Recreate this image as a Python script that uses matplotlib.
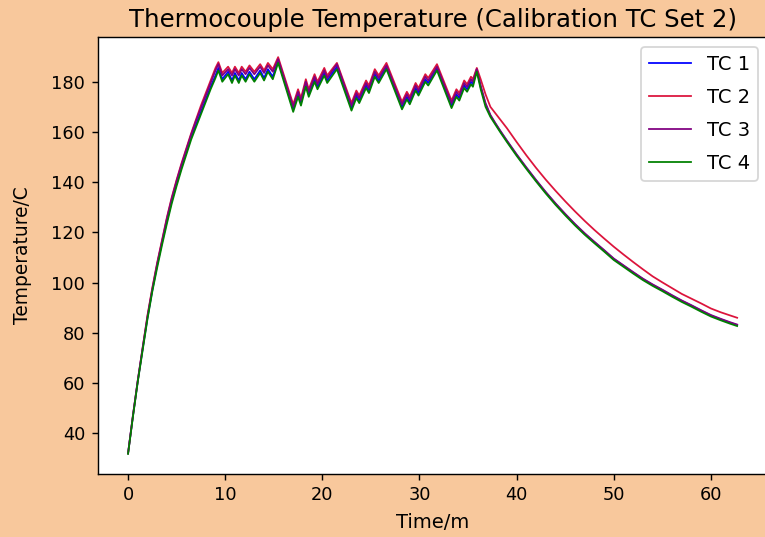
import matplotlib
matplotlib.use("Agg")
import matplotlib.pyplot as plt

# Time (minutes) of each recorded point
time_m = [0, 0.5, 1.0, 1.5, 2.0, 2.5, 3.0, 3.5, 4.0, 4.5, 5.0, 5.5, 6.0, 6.5, 7.0, 7.5, 8.0, 8.5, 9.0,
          9.3, 9.7, 10.3, 10.7, 11.0, 11.4, 11.7, 12.1, 12.5, 13.0, 13.6, 14.0, 14.4, 14.9, 15.45,
          17.0,
          17.5, 17.8, 18.3, 18.6, 19.2, 19.5, 20.2, 20.5, 21.5,
          23.0,
          23.5, 23.8, 24.5, 24.8, 25.4, 25.8, 26.6,
          28.2,
          28.7, 29.0, 29.6, 29.9, 30.6, 30.9, 31.8,
          33.3,
          33.8, 34.1, 34.6, 34.9, 35.3, 35.5, 35.9,
          36.3, 36.8, 37.3, 37.8, 38.3, 39, 40, 41, 42, 43, 44, 45, 46, 47, 48, 49, 50, 51, 52,
          53, 54, 55, 56, 57, 58, 59, 60, 61, 62, 62.7]

tc1 = [32.0, 46.8, 60.8, 73.5, 86, 97, 107, 116, 124.5, 132.5, 139.5, 146, 152, 158, 163, 168, 173, 178, 182.5,
       185.5, 181, 184, 180.5, 183.5, 180.5, 183.5, 181, 184, 181, 184.5, 181.5, 185, 182, 188.5,
       169,
       175, 171.5, 179, 175, 181, 178, 183.5, 180.5, 186,
       169.5,
       174.5, 172.5, 178.5, 176.5, 183, 180.5, 186,
       170,
       174, 172, 177.5, 175.5, 181, 179.5, 185.5,
       170.5,
       175, 173.5, 178.5, 177, 180, 179, 185,
       177.8, 171, 166.5, 163.4, 160.4, 156.4, 150.9, 145.7, 140.7, 135.9, 131.4, 127.2, 123.2, 119.5, 116.1,
       112.8, 109.4, 106.7, 104.0, 101.4, 99.1, 97.0, 94.8, 92.7, 90.8, 88.8, 86.9, 85.4, 84.0, 83.1]

tc2 = [32.0, 47, 61, 74, 87, 98, 108, 117, 126, 134, 141, 147.5, 153.5, 159.5, 165, 170.5, 175.5, 180.5, 185.5,
       187.8, 183.5, 186, 183.5, 186, 183.5, 186, 184, 186.5, 184, 187, 184.5, 187.5, 185, 189.8,
       171,
       177, 173.5, 181, 177, 183, 180, 185.5, 182.5, 187.5,
       171.5,
       176.5, 174.5, 180.5, 178.5, 185, 182.5, 187.5,
       172,
       176, 174, 179.5, 177.5, 183, 181.5, 187,
       172.5,
       177, 175.5, 180.5, 179, 182, 181, 185.5,
       181, 175, 170, 167.5, 165, 161.5, 156, 150.7, 145.7, 141, 136.6, 132.4, 128.4, 124.6, 121,
       117.6, 114.3, 111.2, 108.2, 105.3, 102.5, 100.1, 97.8, 95.5, 93.6, 91.7, 89.7, 88.2, 86.9, 86.0]

tc3 = [32.0, 47, 61, 74, 86.5, 97.5, 107.5, 116.5, 125.5, 133.5, 140.5, 147, 153, 159, 164.5, 169.5, 174.5, 179.5, 184.5,
       187, 182.5, 185, 182.5, 185, 182.5, 185, 183, 185.5, 183, 186, 183.5, 186.5, 184, 189,
       170,
       176, 172.5, 180, 176, 182, 179, 184.5, 181.5, 187,
       170.5,
       175.5, 173.5, 179.5, 177.5, 184, 181.5, 186.5,
       171,
       175, 173, 178.5, 176.5, 182, 180.5, 186,
       171.5,
       176, 174.5, 179.5, 178, 181, 180, 185,
       178.5, 171.5, 166.8, 163.6, 160.6, 156.6, 151.1, 145.9, 140.9, 136.1, 131.6, 127.4, 123.4, 119.7, 116.3,
       113.0, 109.6, 106.9, 104.2, 101.6, 99.3, 97.2, 95.0, 92.9, 91.0, 89.0, 87.1, 85.6, 84.2, 83.3]

tc4 = [31.8, 46.5, 60.5, 73, 85.5, 96.5, 106, 115, 123.5, 131.5, 138.5, 145, 151, 157, 162, 167, 172, 177, 181.5,
       184.5, 180, 183, 179.5, 182.5, 179.5, 182.5, 180, 183, 180, 183.5, 180.5, 184, 181, 187.5,
       168,
       174, 170.5, 178, 174, 180, 177, 182.5, 179.5, 185,
       168.5,
       173.5, 171.5, 177.5, 175.5, 182, 179.5, 185,
       169,
       173, 171, 176.5, 174.5, 180, 178.5, 184.5,
       169.5,
       174, 172.5, 177.5, 176, 179, 178, 184,
       177, 170, 166, 163, 160, 156, 150.5, 145.3, 140.3, 135.5, 131, 126.8, 122.8, 119.1, 115.7,
       112.4, 109.0, 106.3, 103.6, 101.0, 98.7, 96.6, 94.4, 92.3, 90.4, 88.4, 86.5, 85.0, 83.6, 82.7]

series_labels = ["TC 1", "TC 2", "TC 3", "TC 4"]
series_colors = ["blue", "crimson", "purple", "green"]

DPI = 127.5
fig = plt.figure(figsize=(765 / DPI, 537 / DPI), dpi=DPI)
fig.patch.set_facecolor("#f8c89c")
ax = fig.add_axes([97.6 / 765, 63.3 / 537, 670 / 765, 436.4 / 537])
ax.set_facecolor("white")

for vals, lab, col in zip([tc1, tc2, tc3, tc4], series_labels, series_colors):
    ax.plot(time_m, vals, color=col, lw=1.0, label=lab)

ax.set_title("Thermocouple Temperature (Calibration TC Set 2)", fontsize=13.8)
ax.set_xlabel("Time/m", fontsize=11, labelpad=5)
ax.set_ylabel("Temperature/C", fontsize=10.5, labelpad=11)
ax.tick_params(labelsize=10)
ax.legend(loc="upper right", fontsize=11, labelspacing=0.72, handlelength=2.2)

fig.savefig("out.png", dpi=DPI, facecolor=fig.get_facecolor())
